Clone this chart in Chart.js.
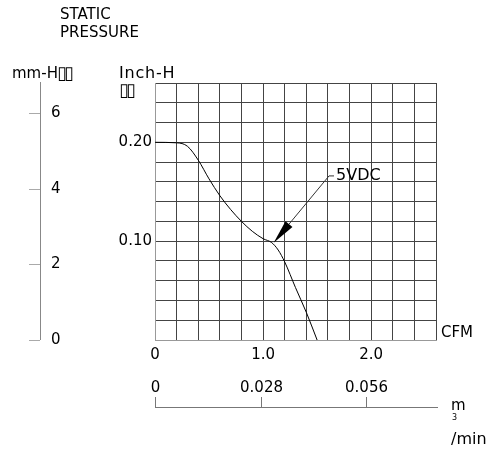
<!DOCTYPE html>
<html>
<head>
<meta charset="utf-8">
<script src="https://cdn.jsdelivr.net/npm/chart.js@4/dist/chart.umd.min.js"></script>
<style>
  html, body { margin: 0; padding: 0; background: #fff; }
  #pq { display: block; }
</style>
</head>
<body>
<canvas id="pq" width="488" height="455"></canvas>
<script>
// P-Q curve, 5VDC
const cfm = [0, 0.2, 0.3, 0.4, 0.5, 0.6, 0.7, 0.8, 0.9, 1.0, 1.08, 1.14, 1.2, 1.3, 1.4, 1.5];
const inchH2O = [0.200, 0.1995, 0.196, 0.182, 0.163, 0.146, 0.132, 0.120, 0.110, 0.1025, 0.0985, 0.091, 0.079, 0.053, 0.028, 0];

const cfmTicks = [0, 1.0, 2.0];
const inchTicks = [0.10, 0.20];
const mmTicks = [0, 2, 4, 6];
const m3Ticks = [0, 0.028, 0.056];

const FONT = "'DejaVu Sans', sans-serif";

const drawing = {
  id: "drawing",
  afterDraw(chart) {
    const ctx = chart.ctx;
    const { x, y, mm, m3 } = chart.scales;
    const area = chart.chartArea;
    ctx.save();
    ctx.fillStyle = "#000";
    ctx.textBaseline = "middle";

    // titles
    ctx.font = "15px " + FONT;
    ctx.textAlign = "left";
    ctx.fillText("STATIC", 60, 15);
    ctx.fillText("PRESSURE", 60, 33);
    ctx.fillText("mm-H", 12, 74);
    ctx.font = "16px " + FONT;
    ctx.letterSpacing = "0.8px";
    ctx.fillText("Inch-H", 119, 74);
    ctx.font = "18px " + FONT;
    ctx.letterSpacing = "-3px";
    ctx.fillText("▯▯", 57, 74);
    ctx.fillText("▯▯", 119, 91);
    ctx.letterSpacing = "0px";

    // inch tick labels
    ctx.font = "15px " + FONT;
    ctx.textAlign = "right";
    inchTicks.forEach((v) => {
      ctx.fillText(v.toFixed(2), area.left - 3, y.getPixelForValue(v));
    });

    // cfm tick labels
    ctx.textAlign = "center";
    cfmTicks.forEach((v) => {
      ctx.fillText(v === 0 ? "0" : v.toFixed(1), x.getPixelForValue(v), 355);
    });
    ctx.textAlign = "left";
    ctx.fillText("CFM", 441, 333);

    // mm axis
    ctx.strokeStyle = "#888";
    ctx.lineWidth = 1;
    ctx.beginPath();
    ctx.moveTo(40.5, 82);
    ctx.lineTo(40.5, area.bottom);
    ctx.stroke();
    ctx.strokeStyle = "#aaa";
    mmTicks.forEach((v) => {
      const py = Math.round(mm.getPixelForValue(v)) + 0.5;
      ctx.beginPath();
      ctx.moveTo(29, py);
      ctx.lineTo(40, py);
      ctx.stroke();
      ctx.fillText(String(v), 51, py);
    });

    // m3/min axis
    ctx.strokeStyle = "#777";
    ctx.beginPath();
    ctx.moveTo(area.left, 407.5);
    ctx.lineTo(area.right + 2, 407.5);
    ctx.stroke();
    ctx.textAlign = "center";
    m3Ticks.forEach((v) => {
      const px = Math.round(m3.getPixelForValue(v)) + 0.5;
      ctx.beginPath();
      ctx.moveTo(px, 397);
      ctx.lineTo(px, 407);
      ctx.stroke();
      ctx.fillText(v === 0 ? "0" : v.toFixed(3), px, 388);
    });
    ctx.textAlign = "left";
    ctx.fillText("m", 451, 406);
    ctx.font = "8px " + FONT;
    ctx.fillText("3", 452, 418);
    ctx.font = "16px " + FONT;
    ctx.fillText("/min", 451, 440);

    // 5VDC callout
    const tipX = x.getPixelForValue(1.098);
    const tipY = y.getPixelForValue(0.0985);
    const elbX = x.getPixelForValue(1.61);
    const elbY = y.getPixelForValue(0.166);
    const dx = elbX - tipX, dy = elbY - tipY;
    const len = Math.hypot(dx, dy);
    const ux = dx / len, uy = dy / len;
    const bx = tipX + ux * 24, by = tipY + uy * 24;
    ctx.strokeStyle = "#333";
    ctx.beginPath();
    ctx.moveTo(bx, by);
    ctx.lineTo(elbX, elbY);
    ctx.lineTo(elbX + 5, elbY);
    ctx.stroke();
    ctx.fillStyle = "#000";
    ctx.beginPath();
    ctx.moveTo(tipX, tipY);
    ctx.lineTo(bx - uy * 4.5, by + ux * 4.5);
    ctx.lineTo(bx + uy * 4.5, by - ux * 4.5);
    ctx.closePath();
    ctx.fill();
    ctx.font = "16px " + FONT;
    ctx.fillText("5VDC", elbX + 7, elbY);
    ctx.restore();
  },
};

new Chart(document.getElementById("pq"), {
  type: "line",
  data: {
    datasets: [
      {
        label: "5VDC",
        data: cfm.map((c, i) => ({ x: c, y: inchH2O[i] })),
        borderColor: "#000",
        borderWidth: 1,
        pointRadius: 0,
        cubicInterpolationMode: "monotone",
        fill: false,
      },
    ],
  },
  options: {
    responsive: false,
    animation: false,
    devicePixelRatio: 1,
    layout: { padding: { left: 155, right: 52, top: 83, bottom: 115 } },
    plugins: { legend: { display: false }, tooltip: { enabled: false } },
    scales: {
      x: {
        type: "linear",
        min: 0,
        max: 2.6,
        ticks: { display: false, stepSize: 0.2 },
        grid: { color: "#444", drawTicks: false },
        border: { color: "#999" },
      },
      y: {
        type: "linear",
        min: 0,
        max: 0.26,
        ticks: { display: false, stepSize: 0.02 },
        grid: { color: "#444", drawTicks: false },
        border: { color: "#999" },
      },
      mm: { type: "linear", axis: "y", display: false, min: 0, max: 6.8 },
      m3: { type: "linear", axis: "x", display: false, min: 0, max: 0.0745 },
    },
  },
  plugins: [drawing],
});
</script>
</body>
</html>
